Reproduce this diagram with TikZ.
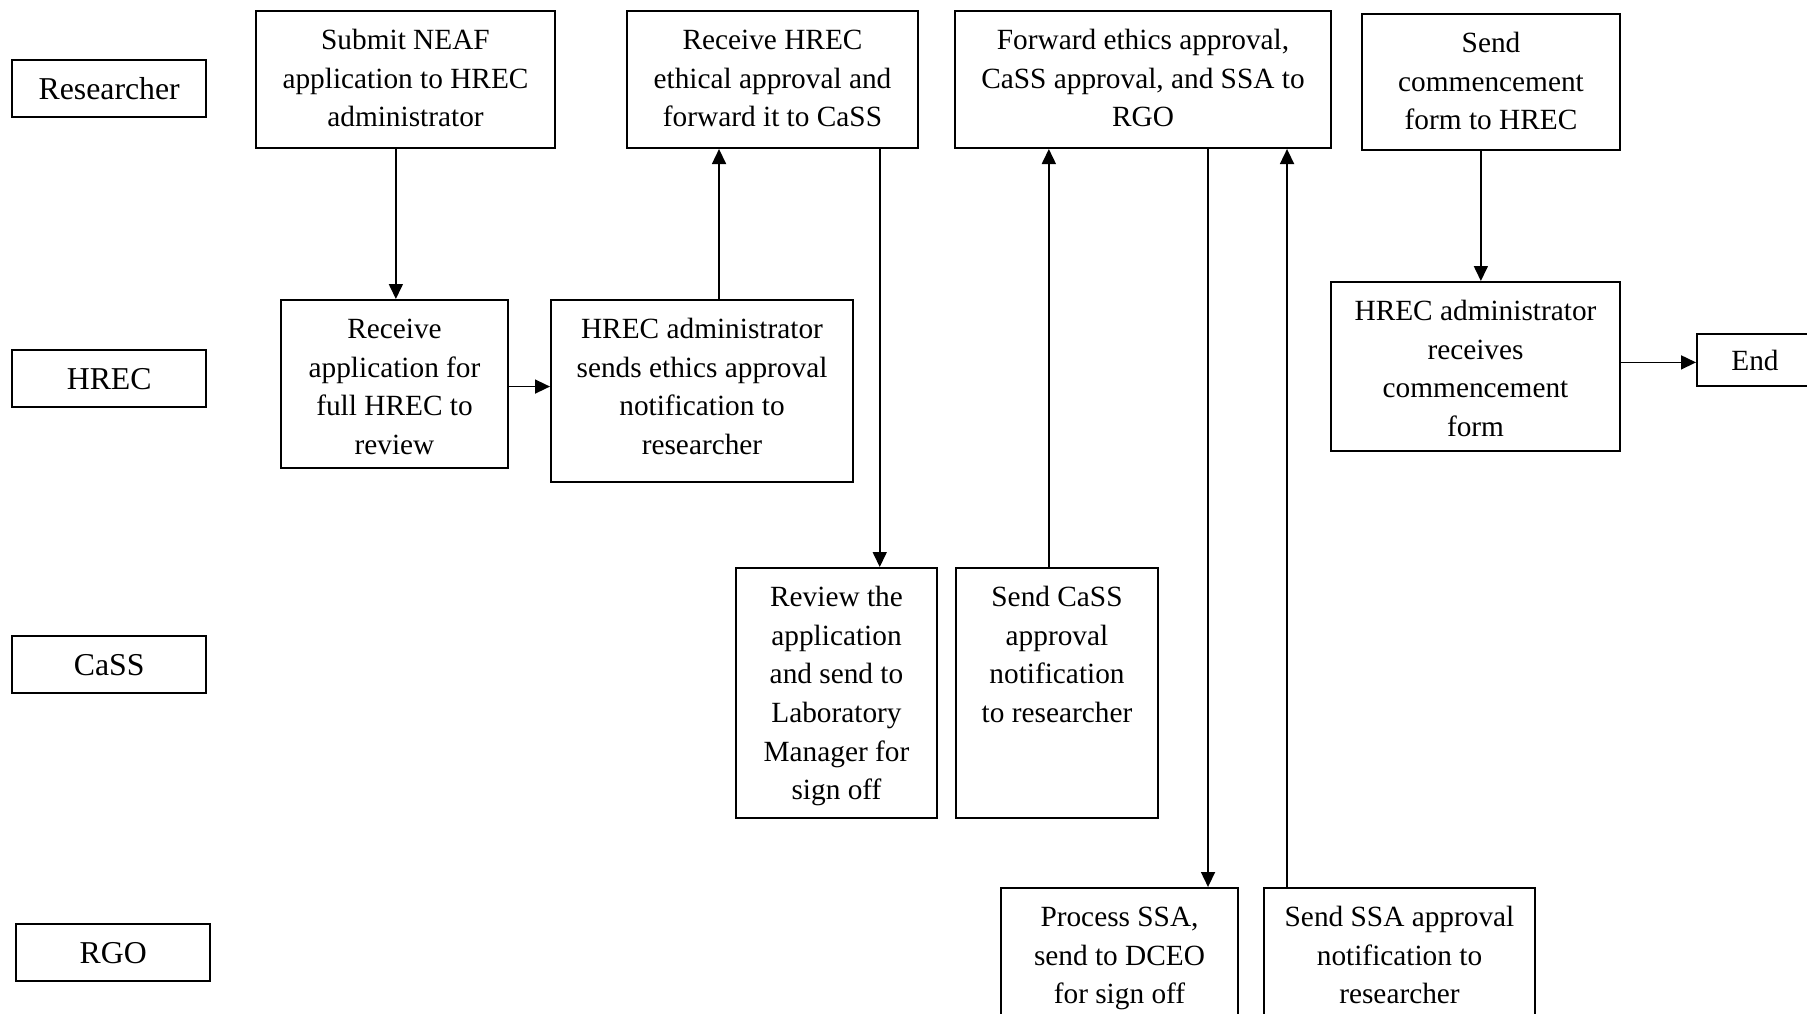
\documentclass[tikz,border=0pt]{standalone}
\usepackage{fontspec}
\setmainfont{Liberation Serif}
\usetikzlibrary{arrows.meta,calc}

% Task box: name, left x, top y, width, height (in picture units), text lines
\newcommand\flowbox[6]{%
  \node[taskbox] (#1) at (#2,#3)
    {\parbox[c][\dimexpr #5pt/2\relax][t]{\dimexpr #4pt/2\relax}{\centering\rule{0pt}{19.2pt}#6\par}};}

\begin{document}
\begin{tikzpicture}[x=0.5pt,y=-0.5pt,
  taskbox/.style={draw, line width=1pt, inner sep=0pt, anchor=north west,
    font=\fontsize{14.66pt}{19.35pt}\selectfont},
  lanebox/.style={draw, line width=1.2pt, inner sep=0pt, anchor=north west,
    minimum width=97pt, minimum height=28.5pt,
    font=\fontsize{15.9pt}{19pt}\selectfont},
  endbox/.style={draw, line width=1pt, inner sep=0pt, anchor=north west,
    minimum width=58pt, minimum height=26pt,
    font=\fontsize{14.66pt}{19pt}\selectfont},
  flow/.style={draw, line width=0.8pt, -{Triangle[length=7.5pt,width=7pt]}},
  plain/.style={draw, line width=0.8pt}]

\clip (0,0) rectangle (1807,1013);
\fill[white] (0,0) rectangle (1807,1013);

% swimlane labels
\node[lanebox] (lres)  at (11,59)  {Researcher};
\node[lanebox] (lhrec) at (11,349) {HREC};
\node[lanebox] (lcass) at (11,635) {CaSS};
\node[lanebox] (lrgo)  at (15,923) {RGO};

% researcher row
\flowbox{sub}{255}{10}{299}{137}{Submit NEAF\\application to HREC\\administrator}
\flowbox{recvh}{626}{10}{291}{137}{Receive HREC\\ethical approval and\\forward it to CaSS}
\flowbox{fwd}{954}{10}{376}{137}{Forward ethics approval,\\CaSS approval, and SSA to\\RGO}
\flowbox{comm}{1361}{13}{258}{136}{Send\\commencement\\form to HREC}

% HREC row
\flowbox{recapp}{280}{299}{227}{168}{Receive\\application for\\full HREC to\\review}
\flowbox{sends}{550}{299}{302}{182}{HREC administrator\\sends ethics approval\\notification to\\researcher}
\flowbox{rcvcomm}{1330}{281}{289}{169}{HREC administrator\\receives\\commencement\\form}
\node[endbox] (endb) at (1696,333) {End};

% CaSS row
\flowbox{review}{735}{567}{201}{250}{Review the\\application\\and send to\\Laboratory\\Manager for\\sign off}
\flowbox{sendcass}{955}{567}{202}{250}{Send CaSS\\approval\\notification\\to researcher}

% RGO row
\flowbox{proc}{1000}{887}{237}{180}{Process SSA,\\send to DCEO\\for sign off}
\flowbox{sendssa}{1263}{887}{271}{180}{Send SSA approval\\notification to\\researcher}

% connector anchor points
\coordinate (p1) at ($(sub.south west)!0.468!(sub.south east)$);
\coordinate (p2) at ($(recapp.north east)!0.515!(recapp.south east)$);
\coordinate (p3) at ($(sends.north west)!0.556!(sends.north east)$);
\coordinate (p4) at ($(recvh.south west)!0.866!(recvh.south east)$);
\coordinate (p5) at ($(sendcass.north west)!0.46!(sendcass.north east)$);
\coordinate (p6) at ($(fwd.south west)!0.672!(fwd.south east)$);
\coordinate (p7) at ($(sendssa.north west)!0.088!(sendssa.north east)$);
\coordinate (p8) at ($(comm.south west)!0.461!(comm.south east)$);
\coordinate (p9) at ($(rcvcomm.north east)!0.476!(rcvcomm.south east)$);

% connectors
\path[flow] (p1) -- (p1 |- recapp.north);
\path[flow] (p2) -- (p2 -| sends.west);
\path[flow] (p3) -- (p3 |- recvh.south);
\path[flow] (p4) -- (p4 |- review.north);
\path[flow] (p5) -- (p5 |- fwd.south);
\path[flow] (p6) -- (p6 |- proc.north);
\path[flow] (p7) -- (p7 |- fwd.south);
\path[flow] (p8) -- (p8 |- rcvcomm.north);
\path[flow] (p9) -- (p9 -| endb.west);

\end{tikzpicture}
\end{document}
